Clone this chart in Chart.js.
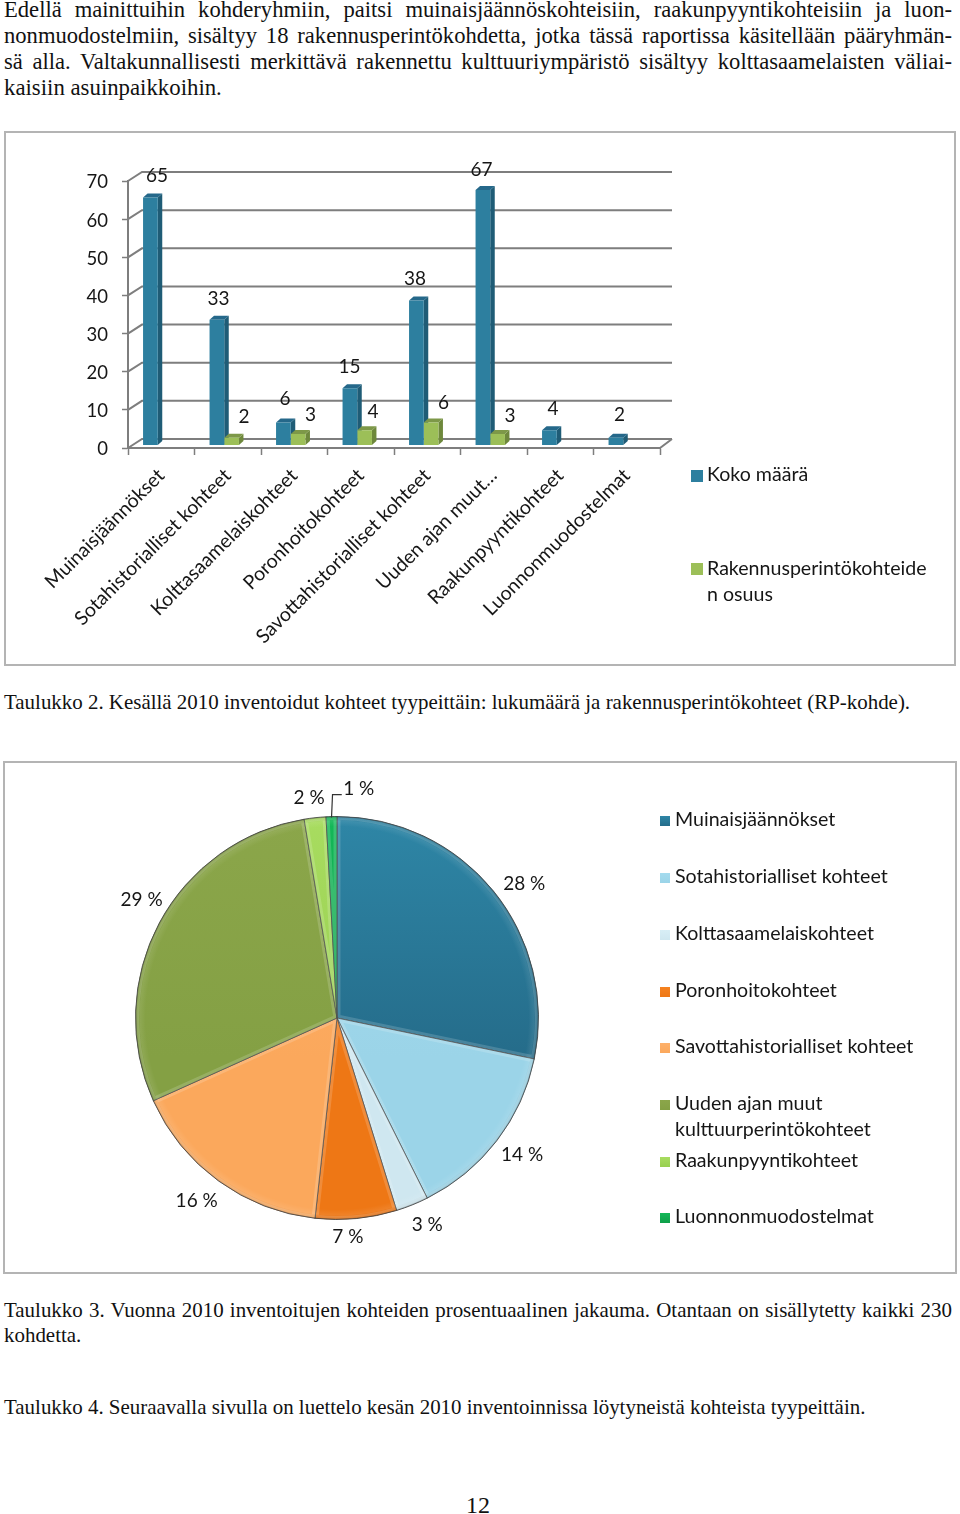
<!DOCTYPE html>
<html lang="fi">
<head>
<meta charset="utf-8">
<title>Inventoidut kohteet 2010</title>
<script src="https://cdn.jsdelivr.net/npm/chart.js@4"></script>
<style>
  html, body { margin: 0; padding: 0; background: #fff; }
  #page { position: relative; width: 960px; height: 1514px; overflow: hidden; }
  .t { position: absolute; left: 4px; font-family: "Liberation Serif", serif; color: #111; white-space: nowrap; }
  .j { width: 948px; text-align: justify; text-align-last: justify; }
  .frame { position: absolute; box-sizing: border-box; border: 2px solid #b4b4b4; }
  canvas { position: absolute; }
  .leg { position: absolute; font-family: Lato, sans-serif; color: #161616; line-height: 26px; white-space: nowrap; }
  .sw { position: absolute; }
</style>
</head>
<body>
<div id="page">
  <div class="t j" style="top:-3px;font-size:22.6px">Edellä mainittuihin kohderyhmiin, paitsi muinaisjäännöskohteisiin, raakunpyyntikohteisiin ja luon-</div>
  <div class="t j" style="top:23px;font-size:22.6px">nonmuodostelmiin, sisältyy 18 rakennusperintökohdetta, jotka tässä raportissa käsitellään pääryhmän-</div>
  <div class="t j" style="top:49px;font-size:22.6px">sä alla. Valtakunnallisesti merkittävä rakennettu kulttuuriympäristö sisältyy kolttasaamelaisten väliai-</div>
  <div class="t" style="top:75px;font-size:22.8px">kaisiin asuinpaikkoihin.</div>

  <div class="frame" style="left:4px;top:131px;width:952px;height:535px"></div>
  <canvas id="barChart" width="950" height="534" style="left:5px;top:131px;width:950px;height:534px"></canvas>
  <div id="barLegend"></div>

  <div class="t" style="top:690px;font-size:20.93px">Taulukko 2. Kesällä 2010 inventoidut kohteet tyypeittäin: lukumäärä ja rakennusperintökohteet (RP-kohde).</div>

  <div class="frame" style="left:3px;top:761px;width:954px;height:513px"></div>
  <canvas id="pieChart" width="952" height="512" style="left:4px;top:762px;width:952px;height:512px"></canvas>
  <div id="pieLegend"></div>

  <div class="t j" style="top:1298px;font-size:20.93px">Taulukko 3. Vuonna 2010 inventoitujen kohteiden prosentuaalinen jakauma. Otantaan on sisällytetty kaikki 230</div>
  <div class="t" style="top:1323px;font-size:20.93px">kohdetta.</div>
  <div class="t" style="top:1395px;font-size:20.93px">Taulukko 4. Seuraavalla sivulla on luettelo kesän 2010 inventoinnissa löytyneistä kohteista tyypeittäin.</div>
  <div class="t" style="left:466px;top:1492px;font-size:24px">12</div>
</div>

<script>
// Pylväskaavion tiedot
const barCategories = ['Muinaisjäännökset', 'Sotahistorialliset kohteet', 'Kolttasaamelaiskohteet', 'Poronhoitokohteet',
  'Savottahistorialliset kohteet', 'Uuden ajan muut…', 'Raakunpyyntikohteet', 'Luonnonmuodostelmat'];
const kokoMaara = [65, 33, 6, 15, 38, 67, 4, 2];
const rpOsuus = [null, 2, 3, 4, 6, 3, null, null];
const yTicks = [0, 10, 20, 30, 40, 50, 60, 70];
const barSeriesNames = ['Koko määrä', 'Rakennusperintökohteiden osuus'];

// Piirakkakaavion tiedot
const pieCategories = ['Muinaisjäännökset', 'Sotahistorialliset kohteet', 'Kolttasaamelaiskohteet', 'Poronhoitokohteet',
  'Savottahistorialliset kohteet', 'Uuden ajan muut kulttuurperintökohteet', 'Raakunpyyntikohteet', 'Luonnonmuodostelmat'];
const pieValues = [65, 33, 6, 15, 38, 67, 4, 2];
const pieLabels = ['28 %', '14 %', '3 %', '7 %', '16 %', '29 %', '2 %', '1 %'];

const FONT = 'Lato';
const TEXT = '#161616';
const GRID = '#7e7e7e';

// Arvotekstien siirrot pylvään yläpäästä [x, y]
const blueNudge = [[3, -24], [-2, -23], [-2, -26], [-4, -24], [-5, -24], [-5, -23], [0, -24], [0, -25]];
const greenNudge = [[0, 0], [9, -23], [9, -22], [5, -21], [9, -22], [9, -21], [0, 0], [0, 0]];
// Piirakan tekstien siirrot [x, y]
const pieNudge = [[10, 10], [4, -2], [5, -5], [-11, -9], [-6, -2], [6, -10], [-3, 7], [28, -1]];

const barFaces = [
  { side: '#1f5c76', top: '#25688a' },
  { side: '#6e883c', top: '#7d9848' }
];

const bar3d = {
  id: 'bar3d',
  beforeDatasetsDraw(chart) {
    const ctx = chart.ctx, y = chart.scales.y, x = chart.scales.x;
    const left = x.left, right = x.right, bottom = y.getPixelForValue(0);
    ctx.save();
    ctx.strokeStyle = GRID;
    ctx.lineWidth = 2;
    // takaseinän viivat ja vinot viivat akselilta seinälle
    yTicks.forEach(v => {
      const py = y.getPixelForValue(v);
      ctx.beginPath();
      ctx.moveTo(left, py);
      ctx.lineTo(left + 14, py - 9);
      ctx.lineTo(right + 12, py - 9);
      ctx.stroke();
    });
    // lattian etureuna ja oikea reuna
    ctx.beginPath();
    ctx.moveTo(left, bottom);
    ctx.lineTo(right, bottom);
    ctx.lineTo(right + 12, bottom - 9);
    ctx.stroke();
    ctx.restore();

    ctx.save();
    ctx.translate(-3.5, -2.5);
    chart.data.datasets.forEach((ds, i) => {
      const dx = 4.5, dy = 4;
      chart.getDatasetMeta(i).data.forEach((el, k) => {
        if (ds.data[k] == null) return;
        const l = el.x - el.width / 2, r = el.x + el.width / 2;
        ctx.fillStyle = barFaces[i].side;
        ctx.beginPath();
        ctx.moveTo(r, el.y);
        ctx.lineTo(r + dx, el.y - dy);
        ctx.lineTo(r + dx, el.base - dy);
        ctx.lineTo(r, el.base);
        ctx.fill();
        ctx.fillStyle = barFaces[i].top;
        ctx.beginPath();
        ctx.moveTo(l, el.y);
        ctx.lineTo(l + dx, el.y - dy);
        ctx.lineTo(r + dx, el.y - dy);
        ctx.lineTo(r, el.y);
        ctx.fill();
      });
    });
    ctx.restore();
    // etutahkot samaan siirtoon
    ctx.save();
    ctx.translate(-3.5, -2.5);
  },
  afterDatasetsDraw(chart) {
    const ctx = chart.ctx;
    ctx.restore();
    ctx.save();
    ctx.font = '19px ' + FONT;
    ctx.fillStyle = TEXT;
    ctx.textAlign = 'center';
    ctx.textBaseline = 'middle';
    chart.data.datasets.forEach((ds, i) => {
      const nudge = i === 0 ? blueNudge : greenNudge;
      chart.getDatasetMeta(i).data.forEach((el, k) => {
        if (ds.data[k] == null) return;
        ctx.fillText(String(ds.data[k]), el.x + nudge[k][0], el.y + nudge[k][1]);
      });
    });
    ctx.restore();
  }
};

new Chart(document.getElementById('barChart'), {
  type: 'bar',
  data: {
    labels: barCategories,
    datasets: [
      { label: barSeriesNames[0], data: kokoMaara, backgroundColor: '#2d7f9f' },
      { label: barSeriesNames[1], data: rpOsuus, backgroundColor: '#9cbf58' }
    ]
  },
  plugins: [bar3d],
  options: {
    responsive: false,
    animation: false,
    datasets: { bar: { categoryPercentage: 0.442, barPercentage: 1 } },
    layout: { padding: { left: 0, top: 50, right: 295, bottom: 0 } },
    plugins: { legend: { display: false }, tooltip: { enabled: false } },
    scales: {
      x: {
        grid: { drawOnChartArea: false, color: GRID, tickLength: 7, tickWidth: 1.5 },
        border: { color: GRID, width: 2 },
        ticks: { autoSkip: false, minRotation: 45, maxRotation: 45, padding: 9, color: TEXT, font: { family: FONT, size: 19.5 } },
        afterFit(scale) { scale.height = 217; }
      },
      y: {
        min: 0,
        max: 70,
        afterBuildTicks(scale) { scale.ticks = yTicks.map(v => ({ value: v })); },
        grid: { drawOnChartArea: false, color: GRID, tickLength: 6, tickWidth: 1.5 },
        border: { color: GRID, width: 2 },
        ticks: { padding: 14, labelOffset: 1.5, color: TEXT, font: { family: FONT, size: 18.5 } },
        afterFit(scale) { scale.width = 123; }
      }
    }
  }
});

// Piirakan viipaleiden liukuvärit [ylä, ala]
const sliceColors = [
  ['#2e86a6', '#256c8a'], ['#a4dbee', '#9bd4e8'], ['#d8eef6', '#cfe7f0'], ['#f58220', '#ee7715'],
  ['#fdb06a', '#fba85c'], ['#8ba64a', '#84a044'], ['#a8dc60', '#98cf50'], ['#14b858', '#0f9f49']
];

const pieDecor = {
  id: 'pieDecor',
  afterDatasetsDraw(chart) {
    const ctx = chart.ctx;
    const arcs = chart.getDatasetMeta(0).data;
    const cx = arcs[0].x, cy = arcs[0].y, r = arcs[0].outerRadius;
    // viipaleiden sisäreunan vaalea viiste
    arcs.forEach(a => {
      ctx.save();
      ctx.beginPath();
      ctx.moveTo(cx, cy);
      ctx.arc(cx, cy, r, a.startAngle, a.endAngle);
      ctx.closePath();
      ctx.clip();
      ctx.strokeStyle = 'rgba(255,255,255,0.16)';
      ctx.lineWidth = 7;
      ctx.stroke();
      ctx.restore();
    });
    // reunan viiste
    ctx.save();
    const rim = ctx.createRadialGradient(cx, cy, r * 0.95, cx, cy, r);
    rim.addColorStop(0, 'rgba(255,255,255,0)');
    rim.addColorStop(0.55, 'rgba(255,255,255,0.08)');
    rim.addColorStop(0.85, 'rgba(0,0,0,0.04)');
    rim.addColorStop(1, 'rgba(0,0,0,0.32)');
    ctx.fillStyle = rim;
    ctx.beginPath();
    ctx.arc(cx, cy, r, 0, Math.PI * 2);
    ctx.fill();
    ctx.restore();

    ctx.save();
    ctx.font = '19px ' + FONT;
    ctx.fillStyle = TEXT;
    ctx.textAlign = 'center';
    ctx.textBaseline = 'middle';
    const lr = r + 27;
    const pts = arcs.map((a, i) => {
      const mid = (a.startAngle + a.endAngle) / 2;
      return [cx + Math.cos(mid) * lr + pieNudge[i][0], cy + Math.sin(mid) * lr + pieNudge[i][1]];
    });
    pieLabels.forEach((txt, i) => ctx.fillText(txt, pts[i][0], pts[i][1]));
    // ohjausviiva 1 %
    const e = arcs[7];
    const m = (e.startAngle + e.endAngle) / 2;
    const sx = cx + Math.cos(m) * (r - 1), sy = cy + Math.sin(m) * (r - 1);
    ctx.strokeStyle = '#333';
    ctx.lineWidth = 1.2;
    ctx.beginPath();
    ctx.moveTo(sx, sy);
    ctx.lineTo(sx + 1, pts[7][1] + 6);
    ctx.lineTo(pts[7][0] - 17, pts[7][1] + 6);
    ctx.stroke();
    ctx.restore();
  }
};

new Chart(document.getElementById('pieChart'), {
  type: 'pie',
  data: {
    labels: pieCategories,
    datasets: [{
      data: pieValues,
      borderColor: 'rgba(50,50,50,0.75)',
      borderWidth: 1,
      backgroundColor(c) {
        const a = c.chart.chartArea;
        const pair = sliceColors[c.dataIndex];
        if (!a) return pair[0];
        const g = c.chart.ctx.createLinearGradient(0, a.top, 0, a.bottom);
        g.addColorStop(0, pair[0]);
        g.addColorStop(0.6, pair[1]);
        return g;
      }
    }]
  },
  plugins: [pieDecor],
  options: {
    responsive: false,
    animation: false,
    layout: { padding: { left: 131, right: 417, top: 54, bottom: 54 } },
    plugins: { legend: { display: false }, tooltip: { enabled: false } }
  }
});

// Selitteet oikealla
function addLegend(holder, text, colors, swX, swY, size, textX, top, fontSize) {
  const sw = document.createElement('div');
  sw.className = 'sw';
  sw.style.cssText = `left:${swX}px;top:${swY}px;width:${size}px;height:${size}px;background:linear-gradient(${colors[0]},${colors[1]})`;
  holder.appendChild(sw);
  const d = document.createElement('div');
  d.className = 'leg';
  d.style.cssText = `left:${textX}px;top:${top}px;font-size:${fontSize}px`;
  d.innerHTML = text;
  holder.appendChild(d);
}

const barLegend = document.getElementById('barLegend');
addLegend(barLegend, barSeriesNames[0], ['#2d7f9f', '#2d7f9f'], 691, 470, 12, 707, 461, 19.6);
addLegend(barLegend, 'Rakennusperintökohteide<br>n osuus', ['#9cbf58', '#9cbf58'], 691, 563, 12, 707, 555, 19.6);

const pieLegend = document.getElementById('pieLegend');
const pieLegendTop = [806, 863, 920, 977, 1033, 1090, 1147, 1203];
pieCategories.forEach((name, i) => {
  const text = name.replace('muut kulttuur', 'muut<br>kulttuur');
  addLegend(pieLegend, text, sliceColors[i], 660, pieLegendTop[i] + 10, 10, 675, pieLegendTop[i], 19.6);
});
</script>
</body>
</html>
